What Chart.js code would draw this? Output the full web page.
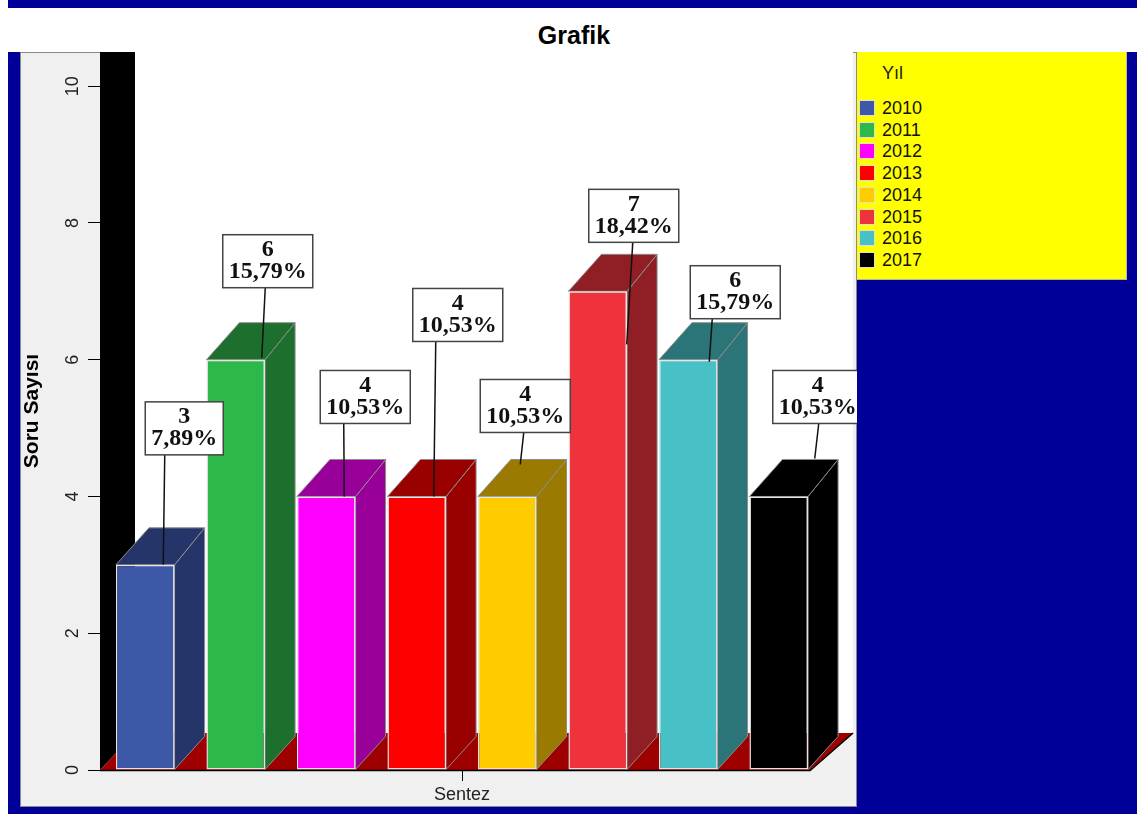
<!DOCTYPE html>
<html>
<head>
<meta charset="utf-8">
<script src="https://cdn.jsdelivr.net/npm/chart.js@4.4.1/dist/chart.umd.min.js"></script>
<style>
  html, body { margin:0; padding:0; }
  body { width:1148px; height:814px; position:relative; background:#ffffff; overflow:hidden; font-family: Arial, "Liberation Sans", sans-serif; }
  #topband { position:absolute; left:8px; top:0; width:1129px; height:8px; background:#000099; }
  #title { position:absolute; left:0; top:20px; width:1148px; text-align:center; font-weight:bold; font-size:25px; line-height:30px; color:#000; }
  #frame { position:absolute; left:8px; top:52px; width:1129px; height:762px; background:#000099; }
  #panel { position:absolute; left:20px; top:52px; width:835px; height:753px; background:#f0f0f0; border:1px solid #8a8a8a; }
  #c { position:absolute; left:20px; top:52px; }
  #legend { position:absolute; left:857px; top:52px; width:269px; height:227px; background:#ffff00; border-right:1px solid #b8b8a0; border-bottom:1px solid #b8b8a0; }
  #legend .lt { position:absolute; left:25px; top:10px; font-size:18px; line-height:22px; color:#222; }
  #legend .row { position:absolute; left:2px; height:22px; font-size:18px; line-height:22px; color:#111; }
  #legend .sw { position:absolute; left:0; top:3px; width:14px; height:14px; border:1px solid #e0e0d0; }
  #legend .tx { position:absolute; left:23px; top:0; white-space:nowrap; }
</style>
</head>
<body>
<div id="topband"></div>
<div id="title">Grafik</div>
<div id="frame"></div>
<div id="panel"></div>
<canvas id="c" width="837" height="754"></canvas>
<div id="legend"><div class="lt">Yıl</div></div>
<script>
// ---- data ----
const categories = ['Sentez'];
const years = ['2010','2011','2012','2013','2014','2015','2016','2017'];
const counts = [3, 6, 4, 4, 4, 7, 6, 4];
const yTickValues = [0, 2, 4, 6, 8, 10];
const legendTitle = 'Yıl';
const yAxisTitle = 'Soru Sayısı';

// ---- styles ----
const frontColors = ['#3e58a8','#2db84b','#ff00ff','#ff0000','#ffcc00','#ef333c','#48c1c6','#000000'];
const darkColors  = ['#253469','#1d6f2d','#990099','#990000','#9a7a00','#8f1f24','#2b7477','#000000'];
// label placement (style): [boxDx, boxGap, lineStartDx, lineEndDx, lineEndDy]
const labelPlace = [
  [39,110,-19.5,18,0],
  [32,72,-2.5,26,-2],
  [39,73,-21.5,18,0],
  [41,155,-22,17,0],
  [18,64,-1.5,13,-32],
  [36,49,-1,29,53],
  [47,41,-23,21,2],
  [39,73,1,36,-38]
];
const DX = 30, DY_TOP = 37, DY_BOT = 33, WALL_W = 35, FLOOR_DY = 37;

// legend
const lg = document.getElementById('legend');
years.forEach((y, i) => {
  const r = document.createElement('div');
  r.className = 'row';
  r.style.top = (45 + i * 21.7) + 'px';
  r.innerHTML = '<div class="sw" style="background:' + frontColors[i] + '"></div><div class="tx">' + y + '</div>';
  lg.appendChild(r);
});

const total = counts.reduce((a, b) => a + b, 0);

const threeD = {
  id: 'threeD',
  beforeDraw(chart) {
    const ctx = chart.ctx, a = chart.chartArea;
    const base = chart.scales.y.getPixelForValue(0);
    const lastMeta = chart.getDatasetMeta(years.length - 1).data[0];
    const floorRight = lastMeta.x + lastMeta.width / 2 + 2;
    ctx.save();
    // back wall (white)
    ctx.fillStyle = '#ffffff';
    ctx.fillRect(a.left + WALL_W, a.top, chart.width - 4 - (a.left + WALL_W), base - FLOOR_DY - a.top);
    // left wall (black)
    ctx.fillStyle = '#000000';
    ctx.beginPath();
    ctx.moveTo(a.left, a.top);
    ctx.lineTo(a.left + WALL_W, a.top);
    ctx.lineTo(a.left + WALL_W, base - FLOOR_DY);
    ctx.lineTo(a.left, base);
    ctx.closePath();
    ctx.fill();
    // floor
    ctx.fillStyle = '#9e0000';
    ctx.beginPath();
    ctx.moveTo(a.left, base);
    ctx.lineTo(floorRight, base);
    ctx.lineTo(floorRight + 43, base - FLOOR_DY);
    ctx.lineTo(a.left + WALL_W, base - FLOOR_DY);
    ctx.closePath();
    ctx.fill();
    ctx.strokeStyle = '#000';
    ctx.lineWidth = 1.5;
    ctx.beginPath();
    ctx.moveTo(a.left, base + 0.5);
    ctx.lineTo(floorRight, base + 0.5);
    ctx.lineTo(floorRight + 43, base - FLOOR_DY);
    ctx.stroke();
    ctx.restore();
  },
  beforeDatasetsDraw(chart) {
    const ctx = chart.ctx;
    ctx.save();
    ctx.strokeStyle = '#8c8c8c';
    ctx.lineWidth = 1;
    chart.data.datasets.forEach((ds, i) => {
      const el = chart.getDatasetMeta(i).data[0];
      const p = el.getProps(['x', 'y', 'base', 'width'], true);
      const L = p.x - p.width / 2, R = p.x + p.width / 2;
      // side
      ctx.fillStyle = darkColors[i];
      ctx.beginPath();
      ctx.moveTo(R, p.y);
      ctx.lineTo(R + DX, p.y - DY_TOP);
      ctx.lineTo(R + DX, p.base - DY_BOT);
      ctx.lineTo(R, p.base);
      ctx.closePath();
      ctx.fill(); ctx.stroke();
      // top
      ctx.beginPath();
      ctx.moveTo(L, p.y);
      ctx.lineTo(R, p.y);
      ctx.lineTo(R + DX, p.y - DY_TOP);
      ctx.lineTo(L + DX + 3, p.y - DY_TOP);
      ctx.closePath();
      ctx.fill(); ctx.stroke();
    });
    ctx.restore();
  },
  afterDatasetsDraw(chart) {
    const ctx = chart.ctx;
    ctx.save();
    ctx.font = 'bold 24px "Liberation Serif", "Times New Roman", serif';
    ctx.textAlign = 'center';
    ctx.textBaseline = 'middle';
    chart.data.datasets.forEach((ds, i) => {
      const el = chart.getDatasetMeta(i).data[0];
      const p = el.getProps(['x', 'y', 'base', 'width'], true);
      const v = ds.data[0];
      const l1 = String(v);
      const l2 = (v / total * 100).toFixed(2).replace('.', ',') + '%';
      const w = Math.max(ctx.measureText(l1).width, ctx.measureText(l2).width) + 12;
      const h = 53;
      const pl = labelPlace[i];
      const cx = p.x + pl[0];
      const bottom = p.y - pl[1];
      const top = bottom - h;
      // leader line
      ctx.strokeStyle = '#111';
      ctx.lineWidth = 1.5;
      ctx.beginPath();
      ctx.moveTo(cx + pl[2], bottom);
      ctx.lineTo(p.x + pl[3], p.y + pl[4]);
      ctx.stroke();
      // box
      ctx.fillStyle = '#ffffff';
      ctx.fillRect(cx - w / 2, top, w, h);
      ctx.strokeStyle = '#444';
      ctx.lineWidth = 1.5;
      ctx.strokeRect(cx - w / 2, top, w, h);
      ctx.fillStyle = '#111';
      ctx.fillText(l1, cx, top + 15);
      ctx.fillText(l2, cx, top + 37);
    });
    ctx.restore();
  }
};

new Chart(document.getElementById('c'), {
  type: 'bar',
  data: {
    labels: categories,
    datasets: years.map((y, i) => ({
      label: y,
      data: [counts[i]],
      backgroundColor: frontColors[i],
      borderColor: '#e4e4e4',
      borderWidth: 1.5,
      borderSkipped: false,
      categoryPercentage: 1.0,
      barPercentage: 0.648
    }))
  },
  options: {
    responsive: false,
    animation: false,
    events: [],
    layout: { padding: { left: 0, right: 33, top: 0, bottom: 0 } },
    plugins: { legend: { display: false }, tooltip: { enabled: false }, title: { display: false } },
    scales: {
      x: {
        type: 'category',
        offset: true,
        grid: { display: true, drawOnChartArea: false, offset: false, tickLength: 11, color: '#000', lineWidth: 1 },
        border: { display: false },
        ticks: { font: { family: 'Arial', size: 18 }, color: '#222', padding: 3 },
        afterFit(s) { s.height = 36; }
      },
      y: {
        min: 0,
        max: 10.5,
        afterBuildTicks(s) { s.ticks = yTickValues.map(v => ({ value: v })); },
        grid: { display: true, drawOnChartArea: false, tickLength: 12, color: '#000', lineWidth: 1 },
        border: { display: false },
        ticks: { minRotation: 90, maxRotation: 90, crossAlign: 'center', padding: 5, font: { family: 'Arial', size: 18 }, color: '#222' },
        title: { display: true, text: yAxisTitle, font: { family: 'Arial', size: 21, weight: 'bold' }, color: '#000', padding: { top: 0, bottom: 0 } },
        afterFit(s) { s.width = 80; s.paddingTop = 0; s.paddingBottom = 0; }
      }
    }
  },
  plugins: [threeD]
});
</script>
</body>
</html>
